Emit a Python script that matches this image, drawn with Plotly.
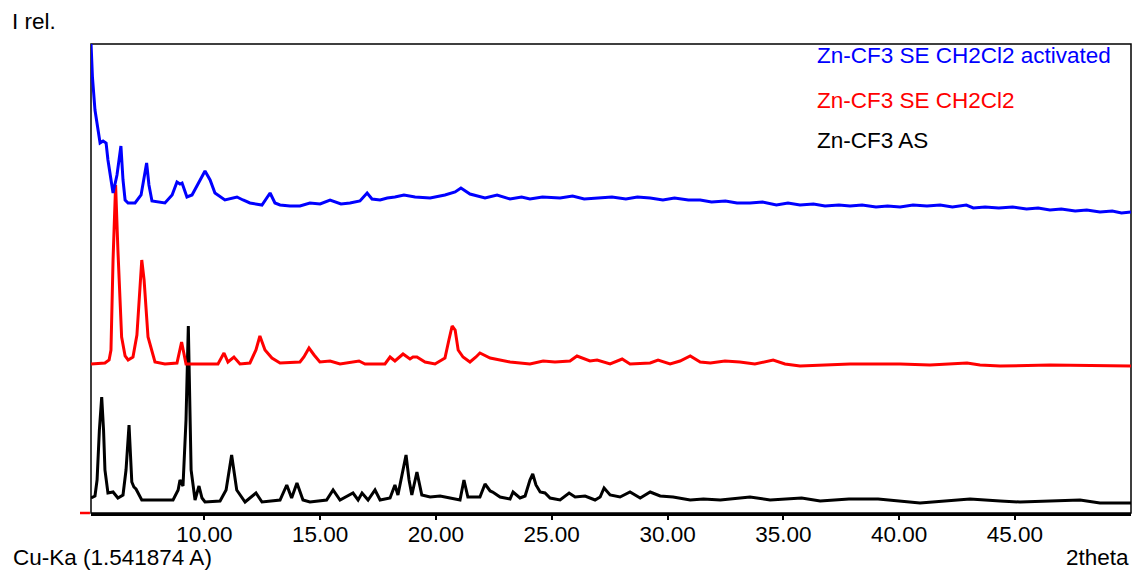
import plotly.graph_objects as go

# ---- data (2theta in degrees, stacked relative intensity) ----
blue_x = [5.11, 5.17, 5.28, 5.50, 5.63, 5.76, 5.84, 6.06, 6.23, 6.40, 6.49, 6.58, 6.71, 7.01, 7.27, 7.40,
          7.51, 7.61, 7.74, 8.30, 8.61, 8.82, 8.95, 9.04, 9.25, 9.47, 9.81, 10.03, 10.25, 10.46, 10.89,
          11.11, 11.41, 11.67, 11.97, 12.49, 12.84, 13.05, 13.27, 13.7, 14.13, 14.56, 15.0, 15.43, 15.9,
          16.29, 16.72, 17.03, 17.24, 17.59, 17.9, 18.23, 18.62, 19.10, 19.75, 20.39, 20.83, 21.08, 21.47,
          22.12, 22.64, 23.20, 23.7, 24.06, 24.6, 25.36, 25.9, 26.4, 27.09, 27.6, 28.2, 28.7, 29.25, 29.8,
          30.3, 30.9, 31.41, 31.9, 32.5, 33.0, 33.56, 34.1, 34.7, 35.2, 35.72, 36.3, 36.8, 37.4, 37.88,
          38.4, 39.0, 39.5, 40.04, 40.6, 41.2, 41.77, 42.3, 42.9, 43.2, 43.71, 44.3, 44.9, 45.5, 46.0,
          46.51, 47.0, 47.6, 48.1, 48.67, 49.2, 49.6, 50.01]
blue_y = [469, 436, 403, 370, 372, 370, 353, 320, 338, 367, 333, 313, 310, 310, 318, 338,
          350, 328, 312, 310, 318, 331, 329, 330, 316, 318, 333, 342, 333, 320, 313,
          314, 316, 313, 310, 308, 320, 310, 308, 307, 307, 310, 309, 313, 309,
          310, 312, 320, 314, 313, 315, 316, 318, 316, 315, 318, 321, 325, 319,
          315, 318, 314, 316, 314, 316, 315, 317, 314, 315, 316, 314, 316, 315, 313,
          315, 313, 313, 311, 312, 310, 310, 311, 308, 310, 308, 309, 307, 308, 307,
          308, 306, 307, 306, 308, 307, 308, 306, 308, 305, 306, 305, 306, 304, 305,
          303, 304, 302, 303, 301, 302, 300, 301]

red_x = [5.11, 5.71, 5.89, 5.97, 6.06, 6.17, 6.27, 6.43, 6.58, 6.71, 6.92, 7.09, 7.30, 7.40, 7.57, 7.87,
         8.30, 8.82, 9.02, 9.21, 10.59, 10.85, 11.02, 11.28, 11.54, 11.97, 12.23, 12.40, 12.62, 12.92,
         13.27, 14.13, 14.30, 14.52, 14.74, 14.99, 15.43, 15.86, 16.68, 16.94, 17.80, 18.02, 18.23,
         18.58, 18.88, 19.01, 19.18, 19.53, 19.96, 20.39, 20.56, 20.70, 20.83, 20.96, 21.17, 21.47,
         21.73, 21.90, 22.34, 23.20, 24.06, 24.63, 25.14, 25.79, 26.09, 26.44, 26.65, 26.96, 27.52,
         28.04, 28.38, 29.25, 29.59, 30.11, 30.54, 30.98, 31.41, 31.85, 32.48, 33.12, 33.77, 34.56,
         35.07, 35.72, 37.88, 39.18, 40.04, 41.33, 42.93, 43.49, 44.36, 46.51, 48.67, 50.01]
red_y = [149, 150, 153, 163, 253, 328, 263, 176, 157, 153, 156, 178, 253, 233, 176, 151,
         149, 150, 171, 149, 149, 160, 151, 156, 149, 150, 163, 177, 163, 155,
         150, 151, 156, 165, 158, 151, 152, 149, 152, 149, 149, 156, 152,
         159, 154, 156, 156, 151, 149, 155, 173, 187, 183, 163, 156, 151,
         156, 160, 155, 151, 149, 152, 151, 152, 157, 154, 152, 153, 149,
         154, 149, 150, 153, 149, 152, 157, 151, 150, 152, 151, 149, 153,
         149, 147, 149, 149, 149, 148, 150, 148, 147, 148, 147, 147]

black_x = [5.11, 5.28, 5.37, 5.47, 5.57, 5.65, 5.71, 5.84, 6.06, 6.27, 6.49, 6.62, 6.75, 6.87, 6.96, 7.05,
           7.30, 8.65, 8.87, 8.95, 9.08, 9.21, 9.31, 9.37, 9.43, 9.60, 9.77, 9.90, 10.03, 10.68, 10.94,
           11.18, 11.28, 11.40, 11.76, 12.23, 12.49, 13.27, 13.56, 13.77, 14.00, 14.26, 14.56, 15.28,
           15.56, 15.86, 16.42, 16.64, 16.81, 17.07, 17.37, 17.59, 18.02, 18.23, 18.36, 18.54, 18.71,
           18.84, 18.96, 19.18, 19.39, 19.75, 20.18, 20.61, 21.04, 21.21, 21.38, 21.90, 22.12, 22.34,
           22.45, 22.77, 23.20, 23.33, 23.63, 23.85, 24.06, 24.18, 24.32, 24.50, 24.71, 24.93, 25.36,
           25.75, 26.01, 26.44, 26.87, 27.09, 27.26, 27.52, 27.95, 28.38, 28.82, 29.25, 29.68, 30.24,
           30.98, 31.55, 32.28, 33.56, 34.43, 35.79, 36.59, 37.83, 39.09, 40.90, 42.27, 43.06, 44.36,
           45.22, 47.81, 48.67, 50.01]
black_y = [15, 17, 33, 83, 116, 83, 43, 20, 21, 15, 18, 43, 88, 31, 26, 24,
           13, 13, 23, 33, 27, 93, 187, 113, 43, 13, 27, 15, 11, 12, 23,
           58, 43, 23, 11, 20, 11, 13, 28, 15, 30, 13, 11, 13,
           23, 13, 20, 13, 20, 13, 23, 13, 15, 28, 18, 38, 58,
           33, 18, 41, 18, 16, 17, 15, 13, 33, 16, 16, 29, 22,
           21, 16, 14, 21, 15, 17, 33, 39, 28, 21, 20, 15, 13,
           20, 16, 17, 13, 16, 25, 18, 16, 21, 15, 21, 17, 16,
           13, 14, 13, 16, 13, 15, 12, 14, 14, 10, 13, 14, 12,
           11, 13, 10, 10]

series_names = ["Zn-CF3 SE CH2Cl2 activated", "Zn-CF3 SE CH2Cl2", "Zn-CF3 AS"]
series_colors = ["#0000ff", "#ff0000", "#000000"]
tick_vals = [10, 15, 20, 25, 30, 35, 40, 45]
tick_text = ["10.00", "15.00", "20.00", "25.00", "30.00", "35.00", "40.00", "45.00"]

FONT = "Liberation Sans, Arial, sans-serif"
FS = 22.5

fig = go.Figure()
for xs, ys, name, col in [(black_x, black_y, series_names[2], series_colors[2]),
                          (red_x, red_y, series_names[1], series_colors[1]),
                          (blue_x, blue_y, series_names[0], series_colors[0])]:
    fig.add_trace(go.Scatter(x=xs, y=ys, mode="lines", name=name,
                             line=dict(color=col, width=3), showlegend=False))

# legend texts
for i, (name, col) in enumerate(zip(series_names, series_colors)):
    fig.add_annotation(xref="paper", yref="paper", x=0.696, y=[0.975, 0.880, 0.794][i],
                       text=name, showarrow=False, xanchor="left", yanchor="middle",
                       font=dict(color=col, size=FS, family=FONT))

fig.add_annotation(xref="paper", yref="paper", x=-0.078, y=1.047, text="I rel.",
                   showarrow=False, xanchor="left", yanchor="middle",
                   font=dict(color="black", size=FS, family=FONT))
fig.add_annotation(xref="paper", yref="paper", x=-0.077, y=-0.094, text="Cu-Ka (1.541874 A)",
                   showarrow=False, xanchor="left", yanchor="middle",
                   font=dict(color="black", size=FS, family=FONT))
fig.add_annotation(xref="paper", yref="paper", x=1.0, y=-0.094, text="2theta",
                   showarrow=False, xanchor="right", yanchor="middle",
                   font=dict(color="black", size=FS, family=FONT))

# frame
fig.add_shape(type="rect", xref="paper", yref="paper", x0=0, x1=1, y0=0, y1=1,
              line=dict(color="black", width=1.5), layer="below")
fig.add_shape(type="line", xref="paper", yref="paper", x0=-0.0106, x1=-0.001, y0=0, y1=0,
              line=dict(color="red", width=2.5))

fig.update_layout(
    width=1134, height=571,
    margin=dict(l=91, r=3, t=44, b=58),
    paper_bgcolor="white", plot_bgcolor="white",
    xaxis=dict(range=[5.108, 50.01], tickvals=tick_vals, ticktext=tick_text,
               showgrid=False, zeroline=False, showline=True, linecolor="black", linewidth=3,
               ticks="outside", ticklen=4, tickwidth=2, tickcolor="black",
               ticklabelstandoff=-5,
               tickfont=dict(size=FS, family=FONT, color="black")),
    yaxis=dict(range=[0, 469], showgrid=False, zeroline=False, showticklabels=False,
               showline=False, ticks=""),
)

fig.write_html("out.html")
